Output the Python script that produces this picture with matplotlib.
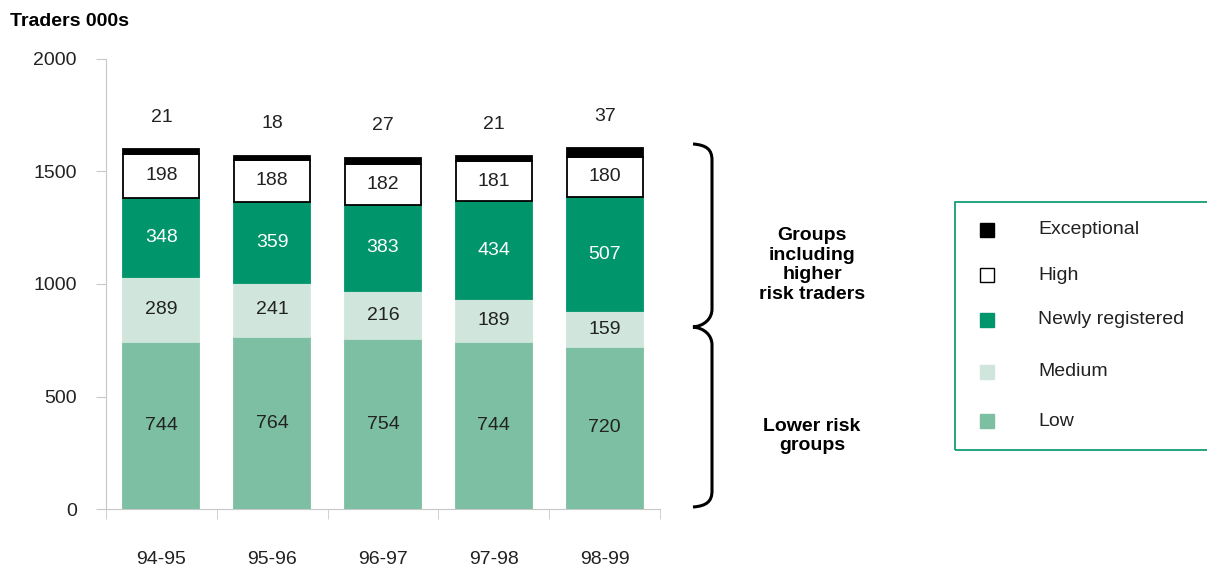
import matplotlib
matplotlib.use("Agg")
import matplotlib.pyplot as plt
from matplotlib.path import Path
from matplotlib.patches import PathPatch, Rectangle
import numpy as np

plt.rcParams['font.family'] = ['Liberation Sans', 'DejaVu Sans']

years = ["94-95", "95-96", "96-97", "97-98", "98-99"]
low = [744, 764, 754, 744, 720]
medium = [289, 241, 216, 189, 159]
newly = [348, 359, 383, 434, 507]
high = [198, 188, 182, 181, 180]
exceptional = [21, 18, 27, 21, 37]

# name, values, fill, edge, label colour
series = [
    ("Low", low, "#7dbfa3", "#7dbfa3", "#222222"),
    ("Medium", medium, "#d0e6dc", "#d0e6dc", "#222222"),
    ("Newly registered", newly, "#00956b", "#00956b", "white"),
    ("High", high, "white", "black", "#222222"),
    ("Exceptional", exceptional, "black", "black", None),
]

FS = 14
W, H = 1207, 568
fig = plt.figure(figsize=(W / 100, H / 100), dpi=100)
ax = fig.add_axes([106 / W, 1 - 509 / H, 554 / W, 450 / H])

x = np.arange(len(years))
bottom = np.zeros(len(years))
for name, vals, fc, ec, tc in series:
    vals = np.array(vals)
    ax.bar(x, vals, 0.686, bottom=bottom, color=fc, edgecolor=ec, linewidth=1.3, zorder=3)
    if tc is not None:
        for xi, b, v in zip(x, bottom, vals):
            ax.text(xi, b + v / 2, str(v), ha="center", va="center", fontsize=FS, color=tc)
    else:
        for xi, b, v in zip(x, bottom, vals):
            ax.annotate(str(v), (xi, b + v), xytext=(0, 23), textcoords="offset points",
                        ha="center", va="center", fontsize=FS, color="#222222")
    bottom = bottom + vals

ax.set_xlim(-0.5, 4.5)
ax.set_ylim(0, 2000)
ax.set_yticks([0, 500, 1000, 1500, 2000])
ax.set_xticks(x)
ax.set_xticklabels(years)
ax.set_xticks(np.arange(-0.5, 5, 1), minor=True)
ax.tick_params(axis="x", which="major", length=0, pad=30, labelsize=FS, labelcolor="#222222")
ax.tick_params(axis="x", which="minor", length=7, color="#c8c8c8", direction="out")
ax.tick_params(axis="y", length=7, color="#c8c8c8", pad=14, labelsize=FS, labelcolor="#222222")
for s in ["top", "right"]:
    ax.spines[s].set_visible(False)
for s in ["left", "bottom"]:
    ax.spines[s].set_color("#c8c8c8")

fig.text(10 / W, 1 - 22 / H, "Traders 000s", fontsize=FS, fontweight="bold", va="center")


def fpt(px, py):
    return (px / W, 1 - py / H)


# curly brace spanning both groups, tip at the split
xe, xl = 693, 712
yt, ym, yb = 144, 327, 507
pts = [
    (xe, yt), (xe + 14, yt + 1), (xl, yt + 6), (xl, yt + 16),
    (xl, ym - 18),
    (xl, ym - 8), (xl - 8, ym - 1), (xe, ym),
    (xl - 8, ym + 1), (xl, ym + 8), (xl, ym + 18),
    (xl, yb - 16),
    (xl, yb - 6), (xe + 14, yb - 1), (xe, yb),
]
codes = [Path.MOVETO, Path.CURVE4, Path.CURVE4, Path.CURVE4, Path.LINETO,
         Path.CURVE4, Path.CURVE4, Path.CURVE4, Path.CURVE4, Path.CURVE4, Path.CURVE4,
         Path.LINETO, Path.CURVE4, Path.CURVE4, Path.CURVE4]
fig.add_artist(PathPatch(Path([fpt(*p) for p in pts], codes), fill=False, lw=2.2,
                         ec="black", transform=fig.transFigure))

fig.text(812 / W, 1 - 265 / H, "Groups\nincluding\nhigher\nrisk traders", ha="center", va="center",
         fontsize=FS, fontweight="bold", linespacing=1.2)
fig.text(812 / W, 1 - 436 / H, "Lower risk\ngroups", ha="center", va="center",
         fontsize=FS, fontweight="bold", linespacing=1.2)

# legend box (runs off the right edge as in the original)
fig.add_artist(Rectangle(fpt(955, 450), 300 / W, 248 / H, transform=fig.transFigure,
                         fill=False, ec="#00956b", lw=1.2))
leg_y = [230, 275, 320, 372, 421]
for (name, vals, fc, ec, tc), yy in zip(reversed(series), leg_y):
    edge = "black" if name == "High" else fc
    fig.add_artist(Rectangle(fpt(980, yy + 7), 14 / W, 14 / H, transform=fig.transFigure,
                             fc=fc, ec=edge, lw=1.0))
    fig.text(1038 / W, 1 - yy / H, name, fontsize=FS, color="#222222", va="center")

fig.savefig("out.png", dpi=100)
